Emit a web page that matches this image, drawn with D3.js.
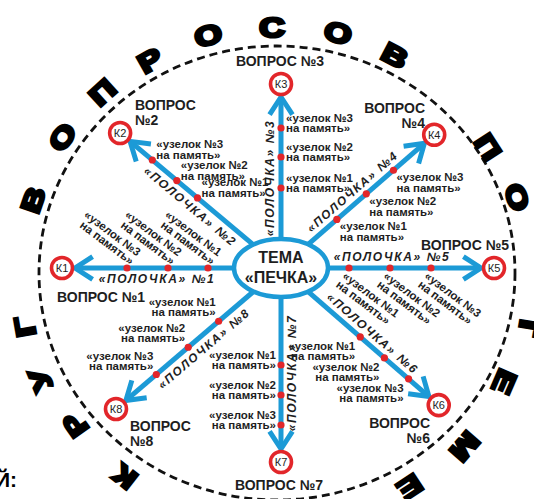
<!DOCTYPE html>
<html><head><meta charset="utf-8">
<script src="https://cdn.jsdelivr.net/npm/d3@7"></script>
<style>body{margin:0;background:#fff} svg{display:block}</style>
</head><body>
<svg id="c" width="534" height="499"></svg>
<script>
// ---------- data ----------
const questions = ["ВОПРОС №1","ВОПРОС №2","ВОПРОС №3","ВОПРОС №4","ВОПРОС №5","ВОПРОС №6","ВОПРОС №7","ВОПРОС №8"];
const keys = ["К1","К2","К3","К4","К5","К6","К7","К8"];
const shelves = ["«ПОЛОЧКА» №1","«ПОЛОЧКА» №2","«ПОЛОЧКА» №3","«ПОЛОЧКА» №4","«ПОЛОЧКА» №5","«ПОЛОЧКА» №6","«ПОЛОЧКА» №7","«ПОЛОЧКА» №8"];
const spokeAngles = [180,-140,-90,-41,0,41,90,139.5];
const spokeLengths = [219,210,184,203,213,209,194,217];
const knotDistances = [[73,113,154],[109,136,168],[80,111,140],[74,113,149],[68,109,150],[105,137,169],[97,127,157],[82,122,164]];
const knotLine1 = ["«узелок №1","«узелок №2","«узелок №3"];
const knotLine2 = "на память»";
const centerTitle = ["ТЕМА","«ПЕЧКА»"];
const ringLetters = ["К","Р","У","Г","В","О","П","Р","О","С","О","В","П","О","Т","Е","М","Е"];
const ringAngles  = [127.9,144.8,157.7,170.1,198.9,214.3,227.7,240.5,254.7,269.1,283.9,297.6,327.3,340.4,369.4,383.4,400.9,416.7];
const ringRadii   = [246,246,255,255,257,259,258,256,257,256,258,257,252,256,257,249,250,244];
const cutText = "Й:";

// ---------- layout ----------
const BLUE="#1c9ad6", RED="#e2262a", INK="#1e1e1e";
const kf = "'Liberation Sans',Arial,sans-serif";
const svg = d3.select("#c");
const cx=281, cy=268, erx=47, ery=29;
const rad = d => d*Math.PI/180;
const pt = (a,r) => [cx + r*Math.cos(rad(a)), cy + r*Math.sin(rad(a))];
const ellR = a => { const c=Math.cos(rad(a)), s=Math.sin(rad(a)); return 1/Math.sqrt((c/erx)**2+(s/ery)**2); };
const line = d3.line();

// dashed outer ring
svg.append("ellipse").attr("cx",277).attr("cy",273).attr("rx",238).attr("ry",227)
  .attr("fill","none").attr("stroke","#111").attr("stroke-width",2.8).attr("stroke-dasharray","8,5");

// ring letters
const rcx=276, rcy=283;
svg.append("g").selectAll("text").data(ringLetters).join("text")
  .attr("transform",(d,i)=>{const a=ringAngles[i], r=ringRadii[i];
     const x=rcx+r*Math.cos(rad(a)), y=rcy+r*Math.sin(rad(a));
     return `translate(${x},${y}) rotate(${a+90}) scale(1.3,1)`;})
  .attr("text-anchor","middle").attr("dy","0.36em")
  .style("font-family",kf).style("font-weight","bold")
  .style("font-size","27px").attr("fill","#000").attr("stroke","#000").attr("stroke-width",3)
  .attr("stroke-linejoin","miter")
  .text(d=>d);

// partial text at bottom-left edge
svg.append("text").attr("x",-5).attr("y",487).text(cutText)
  .style("font-family",kf).style("font-weight","bold").style("font-size","21px").attr("fill","#000");

// spokes
const g = svg.append("g");
spokeAngles.forEach((a,i)=>{
  const L = spokeLengths[i];
  const tipR = L-13;
  g.append("path").attr("d",line([pt(a,ellR(a)-2), pt(a,tipR-2)]))
    .attr("stroke",BLUE).attr("stroke-width",5).attr("fill","none");
  const tip = pt(a,tipR);
  const arm = (s)=>{const b=a+180+s; return [tip[0]+21*Math.cos(rad(b)), tip[1]+21*Math.sin(rad(b))];};
  g.append("path").attr("d",line([arm(33),tip,arm(-33)]))
    .attr("stroke",BLUE).attr("stroke-width",5).attr("fill","none").attr("stroke-linejoin","miter");
});

// center ellipse
svg.append("ellipse").attr("cx",cx).attr("cy",cy).attr("rx",erx).attr("ry",ery)
  .attr("fill","#fff").attr("stroke",BLUE).attr("stroke-width",4.5);
svg.append("g").selectAll("text").data(centerTitle).join("text")
  .attr("x",cx).attr("y",(d,i)=>263+i*20).attr("text-anchor","middle")
  .style("font-family",kf).style("font-weight","bold").style("font-size","16px")
  .attr("fill",INK).text(d=>d);

// knots
const knotLayout = [
 {rot:37, anchor:"end",   x:1,  y1:-15, y2:-4},
 {rot:0,  anchor:"start", x:4,  y1:-12, y2:-1},
 {rot:0,  anchor:"start", x:5,  y1:-6,  y2:4},
 {rot:0,  anchor:"start", x:3,  y1:11,  y2:22},
 {rot:37, anchor:"start", x:0,  y1:12,  y2:23},
 {rot:0,  anchor:"end",   x:-5, y1:13,  y2:23},
 {rot:0,  anchor:"end",   x:-5, y1:-6,  y2:4},
 {rot:0,  anchor:"end",   x:-3, y1:-15, y2:-5}
];
spokeAngles.forEach((a,i)=>{
  knotDistances[i].forEach((d,j)=>{
    const p = pt(a,d), lay = knotLayout[i];
    svg.append("circle").attr("cx",p[0]).attr("cy",p[1]).attr("r",3.6).attr("fill",RED);
    const tg = svg.append("g").attr("transform",`translate(${p[0]},${p[1]}) rotate(${lay.rot})`)
      .style("font-family",kf).style("font-weight","bold").style("font-size","11.5px").attr("fill",INK)
      .attr("text-anchor",lay.anchor);
    tg.append("text").attr("x",lay.x).attr("y",lay.y1).text(knotLine1[j]);
    tg.append("text").attr("x",lay.x).attr("y",lay.y2).text(knotLine2);
  });
});

// shelves
const shelfAlong=[124,109,90,104,111,112,105,111];
spokeAngles.forEach((a,i)=>{
  const p = pt(a,shelfAlong[i]);
  const n = [-Math.sin(rad(a)), Math.cos(rad(a))];
  const x = p[0]-11*n[0], y = p[1]-11*n[1];
  let r = a; if (r>=90) r-=180; if (r<-90) r+=180;
  svg.append("text").attr("transform",`translate(${x},${y}) rotate(${r})`)
    .attr("text-anchor","middle").attr("dy","0.36em")
    .style("font-family",kf).style("font-weight","bold").style("font-style","italic")
    .style("font-size","12px").style("letter-spacing","1.6px").attr("fill",INK).text(shelves[i]);
});

// key circles
spokeAngles.forEach((a,i)=>{
  const p = pt(a,spokeLengths[i]);
  svg.append("circle").attr("cx",p[0]).attr("cy",p[1]).attr("r",10.5)
    .attr("fill","#fff").attr("stroke",RED).attr("stroke-width",3.6);
  svg.append("text").attr("x",p[0]).attr("y",p[1]).attr("dy","0.36em").attr("text-anchor","middle")
    .style("font-family",kf).style("font-size","11px").attr("fill",INK).text(keys[i]);
});

// question labels
const qLayout = [
 {x:57, y:302, anchor:"start", split:false},
 {x:135, y:110, anchor:"start", split:true},
 {x:280, y:66, anchor:"middle", split:false},
 {x:425, y:113, anchor:"end", split:true},
 {x:421, y:250, anchor:"start", split:false},
 {x:430, y:428, anchor:"end", split:true},
 {x:279, y:490, anchor:"middle", split:false},
 {x:130, y:431, anchor:"start", split:true}
];
questions.forEach((q,i)=>{
  const L = qLayout[i];
  const t = svg.append("text").attr("x",L.x).attr("y",L.y).attr("text-anchor",L.anchor)
    .style("font-family",kf).style("font-weight","bold").style("font-size","14px").attr("fill",INK);
  if (L.split){
    const parts = q.split(" ");
    t.append("tspan").attr("x",L.x).text(parts[0]);
    t.append("tspan").attr("x",L.x).attr("dy",15).text(parts[1]);
  } else t.text(q);
});
</script>
</body></html>
